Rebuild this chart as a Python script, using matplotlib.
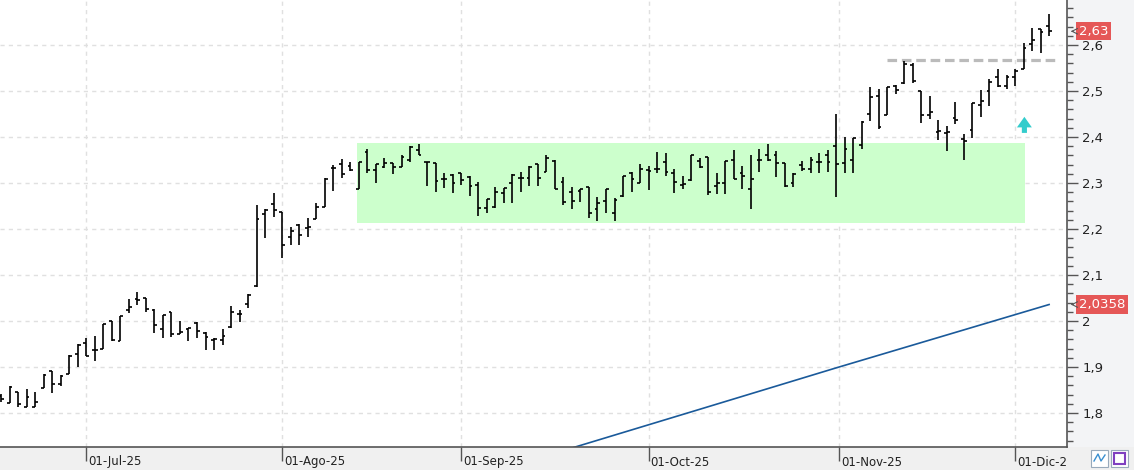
import numpy as np
import pandas as pd
import matplotlib
matplotlib.use("Agg")
import matplotlib.pyplot as plt
import matplotlib.transforms as mtransforms
from matplotlib.patches import Rectangle
from matplotlib.lines import Line2D
from matplotlib.ticker import MultipleLocator, FuncFormatter

# trading days shown (Jun 17 - Dec 5, 2025)
dates = pd.bdate_range("2025-06-17", "2025-12-05")

opens = [1.837, 1.822, 1.846, 1.814, 1.813, 1.854, 1.891, 1.864, 1.884, 1.928,
         1.952, 1.937, 1.939, 2.000, 1.956, 2.023, 2.048, 2.049, 2.024, 1.983,
         2.020, 1.972, 1.983, 1.996, 1.973, 1.959, 1.959, 1.986, 2.015, 2.038,
         2.077, 2.233, 2.254, 2.237, 2.183, 2.209, 2.202, 2.221, 2.248, 2.333,
         2.341, 2.338, 2.286, 2.367, 2.328, 2.334, 2.343, 2.334, 2.350, 2.372,
         2.346, 2.343, 2.308, 2.317, 2.321, 2.314, 2.296, 2.245, 2.248, 2.278,
         2.299, 2.312, 2.312, 2.341, 2.325, 2.348, 2.302, 2.281, 2.283, 2.292,
         2.243, 2.260, 2.235, 2.272, 2.321, 2.301, 2.328, 2.331, 2.345, 2.321,
         2.296, 2.307, 2.348, 2.357, 2.293, 2.299, 2.350, 2.322, 2.286, 2.350,
         2.361, 2.361, 2.343, 2.301, 2.339, 2.330, 2.345, 2.362, 2.380, 2.343,
         2.350, 2.382, 2.450, 2.489, 2.449, 2.511, 2.517, 2.557, 2.500, 2.449,
         2.411, 2.409, 2.441, 2.395, 2.415, 2.470, 2.501, 2.530, 2.512, 2.530,
         2.547, 2.602, 2.634, 2.641]
highs = [1.841, 1.859, 1.846, 1.852, 1.846, 1.884, 1.891, 1.883, 1.925, 1.949,
         1.962, 1.967, 1.993, 2.000, 2.011, 2.048, 2.062, 2.049, 2.025, 2.014,
         2.020, 1.999, 1.985, 1.997, 1.975, 1.962, 1.982, 2.033, 2.024, 2.058,
         2.252, 2.243, 2.278, 2.237, 2.205, 2.211, 2.223, 2.256, 2.310, 2.339,
         2.352, 2.345, 2.345, 2.373, 2.341, 2.354, 2.343, 2.362, 2.380, 2.385,
         2.346, 2.344, 2.321, 2.319, 2.321, 2.315, 2.303, 2.265, 2.292, 2.290,
         2.319, 2.323, 2.338, 2.341, 2.361, 2.350, 2.314, 2.291, 2.288, 2.292,
         2.269, 2.288, 2.267, 2.315, 2.323, 2.341, 2.337, 2.367, 2.365, 2.330,
         2.315, 2.362, 2.355, 2.357, 2.321, 2.348, 2.372, 2.337, 2.361, 2.373,
         2.385, 2.370, 2.343, 2.321, 2.348, 2.356, 2.365, 2.372, 2.450, 2.401,
         2.398, 2.434, 2.508, 2.504, 2.508, 2.513, 2.565, 2.560, 2.500, 2.489,
         2.438, 2.424, 2.477, 2.407, 2.475, 2.502, 2.527, 2.549, 2.535, 2.547,
         2.604, 2.638, 2.634, 2.667]
lows = [1.824, 1.821, 1.812, 1.814, 1.813, 1.854, 1.844, 1.859, 1.884, 1.901,
        1.923, 1.914, 1.939, 1.957, 1.956, 2.017, 2.034, 2.020, 1.973, 1.964,
        1.965, 1.971, 1.957, 1.962, 1.938, 1.937, 1.948, 1.985, 1.998, 2.028,
        2.075, 2.180, 2.227, 2.138, 2.165, 2.166, 2.182, 2.221, 2.248, 2.283,
        2.312, 2.327, 2.286, 2.321, 2.301, 2.332, 2.319, 2.334, 2.346, 2.361,
        2.294, 2.281, 2.290, 2.278, 2.295, 2.272, 2.228, 2.234, 2.245, 2.256,
        2.256, 2.280, 2.294, 2.294, 2.325, 2.288, 2.252, 2.243, 2.259, 2.223,
        2.218, 2.235, 2.218, 2.270, 2.281, 2.299, 2.285, 2.322, 2.315, 2.278,
        2.286, 2.305, 2.332, 2.275, 2.276, 2.276, 2.308, 2.287, 2.243, 2.325,
        2.348, 2.314, 2.292, 2.291, 2.327, 2.321, 2.321, 2.325, 2.270, 2.322,
        2.321, 2.373, 2.435, 2.417, 2.448, 2.493, 2.515, 2.517, 2.431, 2.439,
        2.393, 2.370, 2.428, 2.350, 2.399, 2.444, 2.467, 2.509, 2.504, 2.511,
        2.547, 2.588, 2.583, 2.620]
closes = [1.830, 1.857, 1.819, 1.834, 1.824, 1.883, 1.862, 1.880, 1.924, 1.948,
          1.924, 1.937, 1.993, 1.959, 2.011, 2.030, 2.046, 2.025, 1.991, 2.013,
          1.972, 1.975, 1.985, 1.978, 1.966, 1.961, 1.967, 2.020, 2.015, 2.057,
          2.221, 2.241, 2.241, 2.165, 2.196, 2.188, 2.205, 2.247, 2.309, 2.333,
          2.319, 2.328, 2.345, 2.328, 2.341, 2.343, 2.334, 2.356, 2.378, 2.361,
          2.346, 2.304, 2.309, 2.301, 2.307, 2.293, 2.245, 2.265, 2.281, 2.290,
          2.317, 2.312, 2.335, 2.310, 2.354, 2.288, 2.259, 2.262, 2.286, 2.235,
          2.257, 2.287, 2.263, 2.315, 2.308, 2.330, 2.326, 2.330, 2.323, 2.302,
          2.297, 2.362, 2.334, 2.280, 2.299, 2.348, 2.308, 2.315, 2.308, 2.351,
          2.351, 2.343, 2.293, 2.320, 2.330, 2.350, 2.345, 2.345, 2.341, 2.373,
          2.397, 2.433, 2.486, 2.421, 2.508, 2.502, 2.559, 2.522, 2.448, 2.454,
          2.413, 2.411, 2.438, 2.391, 2.475, 2.479, 2.520, 2.511, 2.531, 2.544,
          2.593, 2.612, 2.629, 2.630]

# long moving average (straight in this window), read at a few bars
ma_idx = [64, 82, 98, 123]
ma_val = [1.707, 1.808, 1.898, 2.0358]

# drawn annotations
zone_low, zone_high = 2.213, 2.387
zone_from, zone_to = 41.8, 120.2
resist = 2.568
resist_from, resist_to = 104.0, 124.1
arrow_at, arrow_base, arrow_top = 120.1, 2.409, 2.444

month_starts = ["2025-07-01", "2025-08-01", "2025-09-01", "2025-10-01", "2025-11-01", "2025-12-01"]
month_labels = ["01-Jul-25", "01-Ago-25", "01-Sep-25", "01-Oct-25", "01-Nov-25", "01-Dic-25"]

W, H = 1134, 470
AX_R, AX_B = 1067, 447

fig = plt.figure(figsize=(W / 100, H / 100), dpi=100, facecolor="#f3f4f6")
fig.patches.append(Rectangle((0, 0), 1, (H - AX_B) / H, transform=fig.transFigure,
                             fc="#f0f0f0", ec="none", zorder=-1))
ax = fig.add_axes([0, (H - AX_B) / H, AX_R / W, AX_B / H])
ax.set_facecolor("white")

x = np.arange(len(dates))
tick = 0.33
ax.vlines(x, lows, highs, color="black", lw=1.2, zorder=3)
ax.hlines(opens, x - tick, x, color="black", lw=1.2, zorder=3)
ax.hlines(closes, x, x + tick, color="black", lw=1.2, zorder=3)

ax.add_patch(Rectangle((zone_from, zone_low), zone_to - zone_from, zone_high - zone_low,
                       fc="#ccffcc", ec="none", zorder=1))
ax.plot([resist_from, resist_to], [resist, resist], color="#bbbbbb", lw=2.3,
        dashes=(3, 1.5), zorder=2)
ax.arrow(arrow_at, arrow_base, 0, arrow_top - arrow_base, width=0.6, head_width=1.75,
         head_length=0.023, length_includes_head=True, fc="#33cccc", ec="none", zorder=4)
ax.plot(ma_idx, ma_val, color="#1a5a9a", lw=1.2, zorder=2)

ax.set_xlim(-0.12, 125.1)
ax.set_ylim(1.726, 2.698)

# x ticks at month starts (fractional bar position for weekend dates)
ticks = [np.interp(pd.Timestamp(m).value, dates.asi8, x) for m in month_starts]
ax.set_xticks(ticks)
ax.tick_params(axis="x", length=10, width=1, color="#555555", labelbottom=False)
clipbox = mtransforms.TransformedBbox(mtransforms.Bbox([[0, 0], [AX_R / W, 1]]), fig.transFigure)
off = mtransforms.ScaledTranslation(2 / 100, 0, fig.dpi_scale_trans)
trans = mtransforms.blended_transform_factory(ax.transData, ax.transAxes) + off
for t, lab in zip(ticks, month_labels):
    txt = ax.text(t, -15 / AX_B, lab, transform=trans, ha="left", va="center",
                  fontsize=8.5, color="#222222")
    txt.set_clip_box(clipbox)
    txt.set_clip_on(True)

ax.yaxis.tick_right()
ax.yaxis.set_major_locator(MultipleLocator(0.1))
ax.yaxis.set_minor_locator(MultipleLocator(0.02))


def fmt(v, pos):
    s = f"{v:.1f}"
    if s.endswith(".0"):
        s = s[:-2]
    return s.replace(".", ",")


ax.yaxis.set_major_formatter(FuncFormatter(fmt))
ax.tick_params(axis="y", which="major", length=8, width=1, color="#555555",
               labelsize=9.5, labelcolor="#222222", pad=3)
ax.tick_params(axis="y", which="minor", length=4, width=1, color="#555555")

ax.grid(True, which="major", color="#e0e0e0", linestyle=(0, (3, 3)), lw=1, zorder=0)
ax.set_axisbelow(True)
for side in ["left", "top"]:
    ax.spines[side].set_visible(False)
for side in ["right", "bottom"]:
    ax.spines[side].set_color("#555555")
    ax.spines[side].set_linewidth(1.2)

# value flags on the price axis
btrans = mtransforms.blended_transform_factory(ax.transAxes, ax.transData)
for val, lab in [(closes[-1], "2,63"), (ma_val[-1], "2,0358")]:
    ax.text(1079 / AX_R, val, lab, transform=btrans, ha="left", va="center",
            fontsize=9.5, color="white", clip_on=False,
            bbox=dict(boxstyle="square,pad=0.2", fc="#e55757", ec="none"))
    ax.annotate("", xy=(1068 / AX_R, val), xytext=(1076 / AX_R, val),
                xycoords=btrans, textcoords=btrans,
                arrowprops=dict(arrowstyle="->", color="#555555", lw=0.8))

# two small toolbar icons at bottom right
for x0 in [1091, 1111]:
    fig.patches.append(Rectangle((x0 / W, 3 / H), 17 / W, 17 / H, transform=fig.transFigure,
                                 fc="white", ec="#99aabb", lw=0.8))
fig.add_artist(Line2D(np.array([1094, 1098, 1101, 1105]) / W, np.array([9, 16, 9, 15]) / H,
                      transform=fig.transFigure, color="#3a8fd0", lw=1))
fig.patches.append(Rectangle((1114 / W, 6 / H), 11 / W, 11 / H, transform=fig.transFigure,
                             fc="none", ec="#8040c0", lw=1.5))

fig.savefig("out.png", dpi=100, facecolor=fig.get_facecolor())
